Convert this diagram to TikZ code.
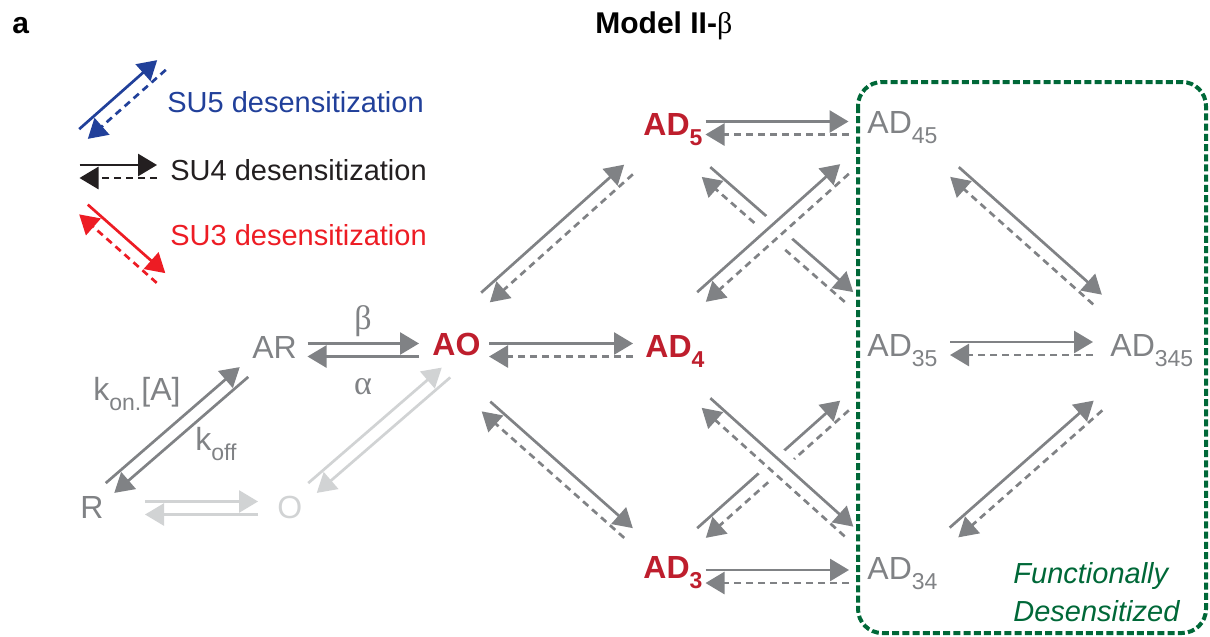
\documentclass[tikz,border=0pt]{standalone}
\usepackage{fontspec}
\setmainfont{Liberation Sans}
\newfontfamily\grk{Liberation Serif}
\usetikzlibrary{arrows.meta, calc, positioning}

\definecolor{rategray}{RGB}{128,130,133}
\definecolor{fadegray}{RGB}{209,211,212}
\definecolor{statered}{RGB}{190,30,45}
\definecolor{sufive}{RGB}{33,64,154}
\definecolor{sufour}{RGB}{35,31,32}
\definecolor{suthree}{RGB}{237,28,36}
\definecolor{boxgreen}{RGB}{0,104,56}

\newcommand\low[1]{\raisebox{-5pt}{\fontsize{11.5}{12}\selectfont #1}}
% forward rate on the left side, backward rate on the right side
\newcommand\rxn[3][]{%
  \draw[fwd,#1] ($(#2)!3.25pt!90:(#3)$) -- ($(#3)!3.25pt!-90:(#2)$);
  \draw[bwd,#1] ($(#3)!3.25pt!90:(#2)$) -- ($(#2)!3.25pt!-90:(#3)$);}

\begin{document}
\begin{tikzpicture}[x=0.5pt, y=-0.5pt,
    fwd/.style={rategray, line width=1.35pt, -{Triangle[length=9.5pt,width=11pt]}},
    bwd/.style={fwd, dash pattern=on 3.5pt off 2.5pt},
    state/.style={text=rategray, inner sep=0pt, anchor=base west, font=\fontsize{16}{18}\selectfont},
    hot/.style={state, text=statered, font=\bfseries\fontsize{16}{18}\selectfont},
    rate/.style={text=rategray, inner sep=0pt, font=\fontsize{16}{18}\selectfont},
    legend/.style={inner sep=0pt, anchor=base west, font=\fontsize{14.5}{16}\selectfont}]
\useasboundingbox (0,0) rectangle (1210,637);

% headings
\node[inner sep=0pt, anchor=base west, font=\bfseries\fontsize{15}{17}\selectfont] (panel) at (12,33) {a};
\node[inner sep=0pt, anchor=base west, font=\bfseries\fontsize{15}{17}\selectfont] (title) at (595,33) {Model II-{\mdseries\grk β}};

% legend
\coordinate (su5a) at (83.5,134);  \coordinate (su5b) at (161.5,65);
\coordinate (su4a) at (79.5,171.5); \coordinate (su4b) at (157,171.5);
\coordinate (su3a) at (83.5,209.5); \coordinate (su3b) at (161,278);
\rxn[sufive]{su5a}{su5b}
\rxn[sufour]{su4a}{su4b}
\rxn[suthree]{su3a}{su3b}
\node[legend, text=sufive] (su5) at (167,112) {SU5 desensitization};
\node[legend, text=sufour] (su4) at (170,180) {SU4 desensitization};
\node[legend, text=suthree] (su3) at (170,245) {SU3 desensitization};

% states
\node[state] (R) at (80,518) {R};
\node[state, text=fadegray] (O) at (277,518) {O};
\node[state] (AR) at (252,358) {AR};
\node[hot] (AO) at (432,355) {AO};
\node[hot] (AD5) at (643,135) {AD\low{5}};
\node[hot] (AD4) at (645,357) {AD\low{4}};
\node[hot] (AD3) at (643,578) {AD\low{3}};
\node[state] (AD45) at (867,133) {AD\low{45}};
\node[state] (AD35) at (867,356) {AD\low{35}};
\node[state] (AD34) at (867,579) {AD\low{34}};
\node[state] (AD345) at (1110,356) {AD\low{345}};

% rate labels
\node[rate, anchor=base west] (kon) at (93,400) {k\low{on.}[A]};
\node[rate, anchor=base west] (koff) at (195,450) {k\low{off}};
\node[rate, font=\grk\fontsize{17}{18}\selectfont] (beta) at (363,321) {β};
\node[rate, font=\grk\fontsize{17}{18}\selectfont] (alpha) at (363,387) {α};

% ends of the rate arrows
\coordinate (R-AR) at (110,488);    \coordinate (AR-R) at (244,372);
\coordinate (AR-AO) at (307.5,350); \coordinate (AO-AR) at (419,350);
\coordinate (R-O) at (145,508);     \coordinate (O-R) at (258,508);
\coordinate (O-AO) at (312.5,488);  \coordinate (AO-O) at (446,372.5);
\coordinate (AO-4) at (489,350);    \coordinate (4-AO) at (633,350);
\coordinate (AO-5) at (485.5,297.5); \coordinate (5-AO) at (628.5,169.5);
\coordinate (AO-3) at (486,406.5);  \coordinate (3-AO) at (628.5,533);
\coordinate (5-45) at (705.5,128);  \coordinate (45-5) at (848.5,128);
\coordinate (5-35) at (706,172);    \coordinate (35-5) at (849,297);
\coordinate (4-45) at (701.5,297);  \coordinate (45-4) at (844.5,169);
\coordinate (4-34) at (706,403);    \coordinate (34-4) at (849,531.5);
\coordinate (3-35) at (701.5,533);  \coordinate (35-3) at (844.5,405.5);
\coordinate (3-34) at (705.5,576.5); \coordinate (34-3) at (849,576.5);
\coordinate (45-345) at (954.5,172); \coordinate (345-45) at (1097.5,299.5);
\coordinate (35-345) at (950,348.5); \coordinate (345-35) at (1093,348.5);
\coordinate (34-345) at (954,532.5); \coordinate (345-34) at (1098,405.5);

\rxn[solid]{R-AR}{AR-R}
\rxn[solid]{AR-AO}{AO-AR}
\rxn[solid, fadegray]{R-O}{O-R}
\rxn[solid, fadegray]{O-AO}{AO-O}
\rxn{AO-4}{4-AO}
\rxn{AO-5}{5-AO}
\rxn{AO-3}{3-AO}
\rxn{5-45}{45-5}
\rxn{3-34}{34-3}

% crossings
\rxn{5-35}{35-5}
\draw[white, line width=17pt] ($(4-45)!0.4!(45-4)$) -- ($(4-45)!0.62!(45-4)$);
\rxn{4-45}{45-4}
\rxn{3-35}{35-3}
\draw[white, line width=17pt] ($(4-34)!0.38!(34-4)$) -- ($(4-34)!0.6!(34-4)$);
\rxn{4-34}{34-4}

\rxn{45-345}{345-45}
\rxn{35-345}{345-35}
\rxn{34-345}{345-34}

% functionally desensitized states
\draw[boxgreen, line width=2pt, dash pattern=on 3.5pt off 1.6pt, rounded corners=12pt]
  (858,82) rectangle (1206,633);
\node[legend, text=boxgreen, font=\itshape\fontsize{14.5}{16}\selectfont] (func) at (1013,583) {Functionally};
\node[legend, text=boxgreen, font=\itshape\fontsize{14.5}{16}\selectfont] (desens) at (1013,621) {Desensitized};
\end{tikzpicture}
\end{document}
